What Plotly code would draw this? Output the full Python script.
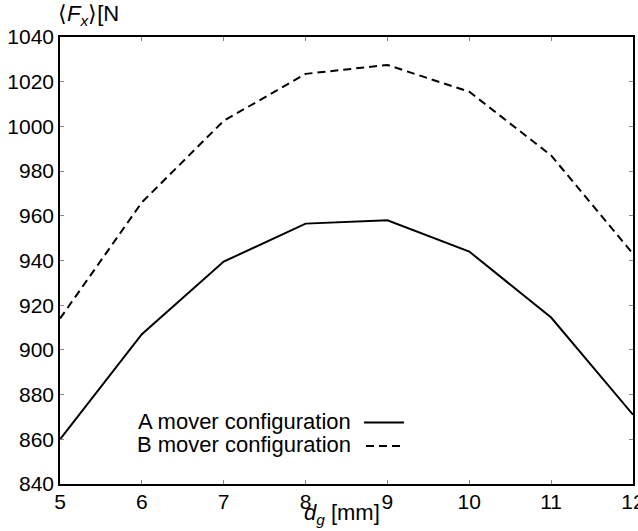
import plotly.graph_objects as go

# Air-gap sweep and mean thrust for both mover layouts
gap_mm = [5, 6, 7, 8, 9, 10, 11, 12]
force_a = [860, 907, 939.5, 956.5, 958, 944, 914.5, 871]
force_b = [914, 966, 1002.5, 1023.5, 1027.5, 1015.5, 987, 943]
x_ticks = [5, 6, 7, 8, 9, 10, 11, 12]
y_ticks = [840, 860, 880, 900, 920, 940, 960, 980, 1000, 1020, 1040]
legend_labels = ["A mover configuration", "B mover configuration"]

W, H = 638, 531
L, R, T, B = 60, 5, 37, 47
pw, ph = W - L - R, H - T - B

def px_x(p):
    return (p - L) / pw

def px_y(p):
    return (H - B - p) / ph

FONT = "Liberation Sans, Arial, sans-serif"

fig = go.Figure()
fig.add_trace(go.Scatter(x=gap_mm, y=force_a, mode="lines",
                         line=dict(color="black", width=2), showlegend=False))
fig.add_trace(go.Scatter(x=gap_mm, y=force_b, mode="lines",
                         line=dict(color="black", width=2, dash="8px,5px"),
                         showlegend=False))

axis_common = dict(showgrid=False, zeroline=False, showline=True, linecolor="black",
                   linewidth=1.5, mirror="ticks", ticks="inside", ticklen=4,
                   tickcolor="#888", tickwidth=1, automargin=False,
                   ticklabeloverflow="allow",
                   tickfont=dict(family=FONT, size=21, color="black"))

fig.update_xaxes(range=[5, 12], tickvals=x_ticks, ticklabelstandoff=-2, **axis_common)
fig.update_yaxes(range=[840, 1040], tickvals=y_ticks, ticklabelstandoff=0, **axis_common)

annotations = [
    dict(text="\u27e8<i>F<sub>x</sub></i>\u27e9[N", x=px_x(56), y=px_y(15), xref="paper",
         yref="paper", xanchor="left", yanchor="middle", showarrow=False,
         font=dict(family=FONT, size=22, color="black")),
    dict(text="<i>d<sub>g</sub></i> [mm]", x=px_x(342), y=px_y(514), xref="paper",
         yref="paper", xanchor="center", yanchor="middle", showarrow=False,
         font=dict(family=FONT, size=22, color="black")),
    dict(text=legend_labels[0], x=px_x(353), y=px_y(421.5), xref="paper", yref="paper",
         xanchor="right", yanchor="middle", showarrow=False,
         font=dict(family=FONT, size=22, color="black")),
    dict(text=legend_labels[1], x=px_x(353), y=px_y(444.5), xref="paper", yref="paper",
         xanchor="right", yanchor="middle", showarrow=False,
         font=dict(family=FONT, size=22, color="black")),
]

shapes = [
    dict(type="line", xref="paper", yref="paper", x0=px_x(364), x1=px_x(404),
         y0=px_y(422.5), y1=px_y(422.5), line=dict(color="black", width=2)),
    dict(type="line", xref="paper", yref="paper", x0=px_x(366), x1=px_x(401),
         y0=px_y(446), y1=px_y(446), line=dict(color="black", width=2, dash="8px,5px")),
]

fig.update_layout(width=W, height=H, margin=dict(l=L, r=R, t=T, b=B),
                  paper_bgcolor="white", plot_bgcolor="white",
                  annotations=annotations, shapes=shapes, showlegend=False)

fig.write_html("out.html")
